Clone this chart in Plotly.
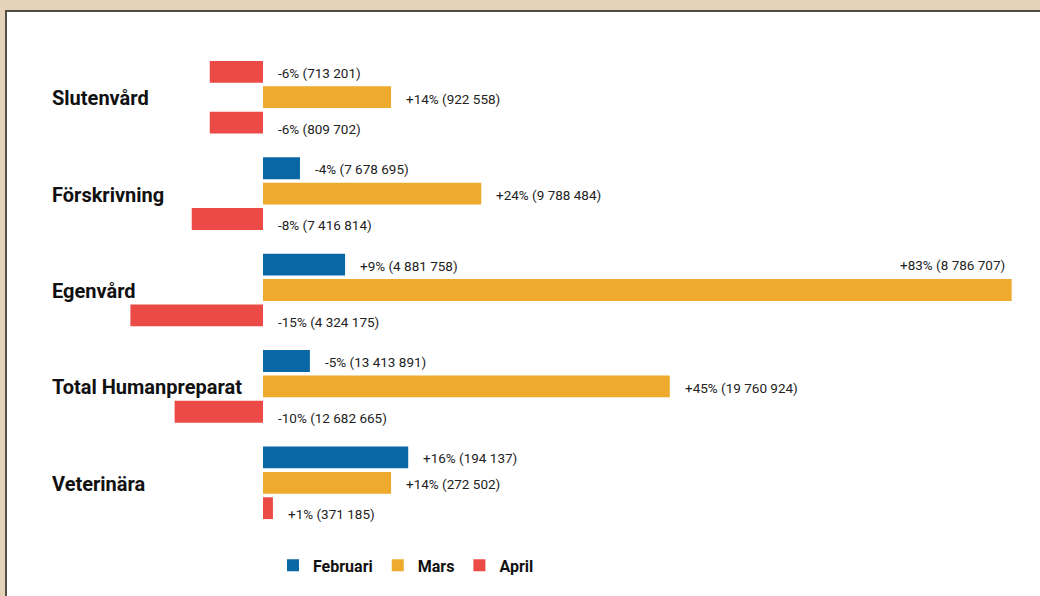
import plotly.graph_objects as go

categories = ["Slutenvård", "Förskrivning", "Egenvård", "Total Humanpreparat", "Veterinära"]
series = ["Februari", "Mars", "April"]

# percent change shown in labels
feb_pct = [-6, -4, 9, -5, 16]
mars_pct = [14, 24, 83, 45, 14]
apr_pct = [-6, -8, -15, -10, 1]

# counts shown in labels
feb_count = [713201, 7678695, 4881758, 13413891, 194137]
mars_count = [922558, 9788484, 8786707, 19760924, 272502]
apr_count = [809702, 7416814, 4324175, 12682665, 371185]

# bar lengths as drawn in the picture
feb_bar = [-5.9, 4.1, 9.1, 5.2, 16.1]
mars_bar = [14.2, 24.2, 83.0, 45.1, 14.2]
apr_bar = [-5.9, -7.9, -14.7, -9.8, 1.1]

BLUE = "#0A67A5"
ORANGE = "#EDAA2D"
RED = "#EB4A46"
# the first Februari bar is drawn red in the original
feb_colors = [RED, BLUE, BLUE, BLUE, BLUE]

W, H = 1040, 596
L, R, T, B = 100, 10, 49, 64.5
PW, PH = W - L - R, H - T - B
PX_PER = 9.02
ZERO_PX = 263

FONT = "Roboto, Liberation Sans, Arial, sans-serif"

fig = go.Figure()
# Februari: main (blue) bars and the odd red bar share one offset slot
fig.add_trace(go.Bar(name="<b>Februari</b>", y=categories,
                     x=[b if c == BLUE else None for b, c in zip(feb_bar, feb_colors)],
                     orientation="h", offsetgroup="feb",
                     marker=dict(color=BLUE, line=dict(width=0))))
fig.add_trace(go.Bar(name="<b>Februari</b>", y=categories,
                     x=[b if c != BLUE else None for b, c in zip(feb_bar, feb_colors)],
                     orientation="h", offsetgroup="feb", showlegend=False,
                     marker=dict(color=RED, line=dict(width=0))))
fig.add_trace(go.Bar(name="<b>Mars</b>", y=categories, x=mars_bar, orientation="h",
                     offsetgroup="mars", marker=dict(color=ORANGE, line=dict(width=0))))
fig.add_trace(go.Bar(name="<b>April</b>", y=categories, x=apr_bar, orientation="h",
                     offsetgroup="apr", marker=dict(color=RED, line=dict(width=0))))


def fmt(n):
    return format(n, ",").replace(",", " ")


annotations = []
pitch = 25.5
for si, (bars, pcts, counts) in enumerate([(feb_bar, feb_pct, feb_count),
                                            (mars_bar, mars_pct, mars_count),
                                            (apr_bar, apr_pct, apr_count)]):
    base_shift = [pitch - 1, -1.5, -pitch - 6][si]
    for cat, b, p, c in zip(categories, bars, pcts, counts):
        txt = f"{p:+d}% ({fmt(c)})"
        if b > 70:
            annotations.append(dict(x=b, y=cat, xref="x", yref="y", text=txt,
                                    showarrow=False, xanchor="right", yanchor="middle",
                                    xshift=-5, yshift=base_shift + 27,
                                    font=dict(family=FONT, size=13.5, color="#222")))
        else:
            annotations.append(dict(x=max(b, 0), y=cat, xref="x", yref="y", text=txt,
                                    showarrow=False, xanchor="left", yanchor="middle",
                                    xshift=13, yshift=base_shift,
                                    font=dict(family=FONT, size=13.5, color="#222")))

for cat in categories:
    annotations.append(dict(x=(50 - L) / PW, y=cat, xref="paper", yref="y", text=f"<b>{cat}</b>",
                            showarrow=False, xanchor="left", yanchor="middle", yshift=-1,
                            font=dict(family=FONT, size=20, color="#111")))

xmin = (L - ZERO_PX) / PX_PER
xmax = (W - R - ZERO_PX) / PX_PER

fig.update_layout(
    width=W, height=H,
    margin=dict(l=L, r=R, t=T, b=B),
    paper_bgcolor="#E5D3B9",
    plot_bgcolor="rgba(0,0,0,0)",
    barmode="group", bargap=0.21, bargroupgap=0.14,
    xaxis=dict(range=[xmin, xmax], visible=False, showgrid=False, zeroline=False),
    yaxis=dict(autorange="reversed", showticklabels=False, showgrid=False, zeroline=False,
               showline=False, ticks=""),
    showlegend=True,
    legend=dict(orientation="h", x=(273 - L) / PW, xanchor="left",
                y=-(566 - (T + PH)) / PH, yanchor="middle",
                font=dict(family=FONT, size=16, color="#111"),
                itemwidth=30, bgcolor="rgba(0,0,0,0)", tracegroupgap=0),
    annotations=annotations,
    shapes=[dict(type="rect", xref="paper", yref="paper",
                 x0=(6 - L) / PW, x1=(W + 10 - L) / PW,
                 y0=-(H + 10 - (T + PH)) / PH, y1=(T + PH - 11) / PH,
                 fillcolor="white", line=dict(color="#4F4F48", width=2), layer="below")],
)

fig.write_html("out.html", config={"displayModeBar": False},
               post_script="document.body.style.margin='0';document.body.style.overflow='hidden';")
